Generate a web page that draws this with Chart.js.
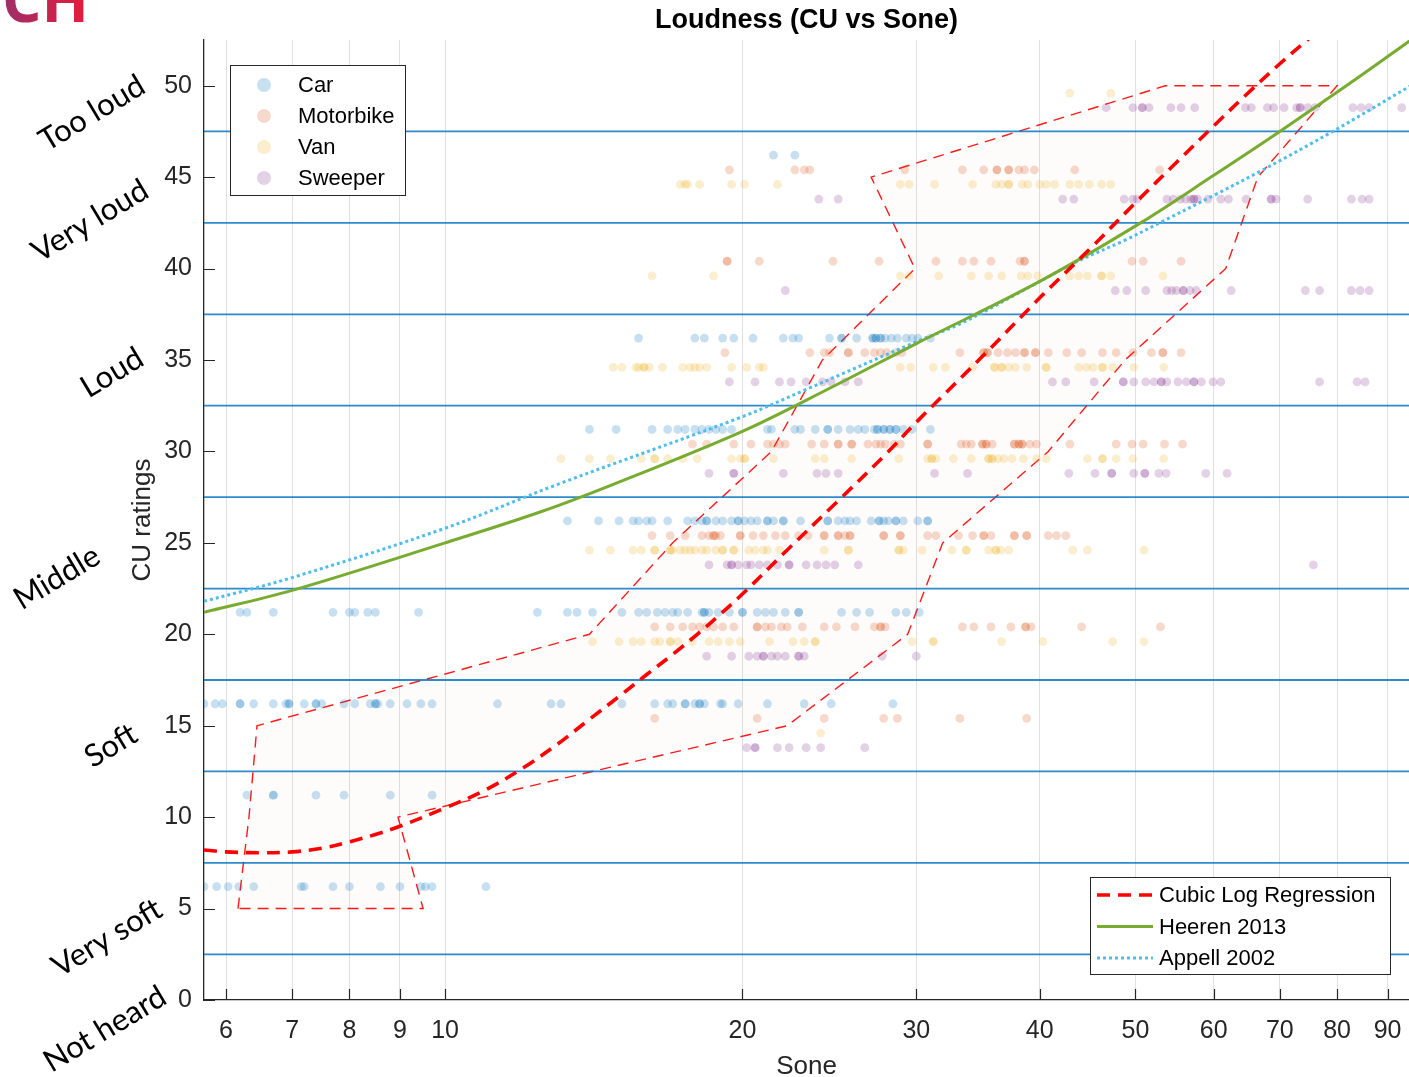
<!DOCTYPE html>
<html>
<head>
<meta charset="utf-8">
<script src="https://cdn.jsdelivr.net/npm/chart.js@4.4.1/dist/chart.umd.min.js"></script>
<style>
  html, body { margin: 0; padding: 0; background: #fff; overflow: hidden; }
  #wrap { width: 1409px; height: 1077px; }
</style>
</head>
<body>
<div id="wrap"><canvas id="chart" width="1409" height="1077"></canvas></div>
<script>
// CU ratings given by listeners (rows) and the loudness in sone of each rated sound
const ratings = [5, 10, 15, 20, 25, 30, 35, 40, 45, 50];

const carSone = [
  [5.7, 5.87, 6.03, 6.18, 6.4, 7.15, 7.2, 7.7, 8.0, 8.6, 9.0, 9.45, 9.55, 9.7, 11.0],
  [6.3, 6.7, 6.7, 7.4, 7.9, 8.8, 9.7],
  [5.7, 5.85, 5.95, 6.2, 6.2, 6.4, 6.7, 6.9, 6.95, 6.95, 7.2, 7.4, 7.4, 7.5, 7.9, 8.1, 8.4, 8.5, 8.5, 8.55, 8.8, 9.15, 9.45, 9.7,
   11.3, 12.8, 13.1, 15.1, 16.3, 16.8, 17.0, 17.5, 17.5, 17.9, 18.1, 18.1, 18.3, 19.0, 19.1, 19.8, 21.2, 23.1, 24.6, 28.4],
  [6.2, 6.3, 6.7, 7.7, 8.0, 8.1, 8.35, 8.5, 9.4, 12.4, 13.3, 13.6, 14.1, 15.1, 15.7, 16.0, 16.4, 16.7, 17.0, 17.2, 17.6,
   18.2, 18.3, 18.3, 18.5, 18.9, 19.4, 20.0, 20.0, 20.7, 21.1, 21.5, 22.1, 22.8, 22.8, 25.2, 26.1, 26.9, 28.6, 29.3, 30.2],
  [13.3, 14.3, 15.0, 15.5, 15.7, 16.0, 16.2, 16.8, 17.6, 17.9, 18.2, 18.4, 18.4, 18.8, 19.1, 19.5, 19.8, 19.8, 20.1, 20.4,
   20.7, 21.2, 21.2, 21.5, 22.0, 22.0, 22.9, 24.4, 24.4, 25.0, 25.4, 25.7, 26.1, 27.0, 27.5, 27.5, 27.8, 28.1, 28.6, 28.6,
   29.1, 30.1, 30.8, 30.8],
  [14.0, 14.9, 16.2, 16.8, 17.2, 17.5, 17.9, 18.2, 18.5, 18.8, 19.1, 19.5, 21.2, 21.4, 22.6, 22.9, 23.7, 24.4, 24.4, 25.0,
   25.7, 26.2, 26.6, 27.2, 27.4, 27.4, 27.8, 27.8, 28.2, 28.2, 28.6, 28.6, 29.1, 29.7, 31.0],
  [15.7, 17.9, 18.3, 19.1, 19.6, 20.5, 22.0, 22.5, 22.8, 24.5, 25.2, 25.2, 26.1, 27.1, 27.1, 27.3, 27.3, 27.6, 27.6, 27.9,
   28.3, 28.7, 29.3, 29.7, 30.1, 31.0],
  [],
  [21.5, 22.6],
  []
];

const motoSone = [
  [],
  [],
  [16.3, 20.7, 24.2, 27.8, 28.7, 33.2, 38.8],
  [16.3, 16.9, 17.4, 17.8, 18.1, 18.4, 18.7, 19.1, 19.6, 20.7, 20.7, 21.1, 21.4, 21.9, 22.2, 23.0, 24.2, 24.9, 26.0, 27.2,
   27.6, 27.6, 27.9, 33.4, 34.3, 35.7, 37.4, 38.7, 38.7, 39.2, 44.1, 53.0],
  [16.2, 16.9, 17.5, 18.2, 18.5, 18.7, 18.7, 18.8, 19.0, 19.9, 19.9, 20.5, 21.0, 21.6, 22.1, 22.8, 23.3, 24.2, 24.2, 25.0,
   25.0, 25.4, 25.7, 25.7, 27.8, 27.8, 28.9, 28.9, 30.8, 31.4, 33.1, 34.2, 35.1, 35.1, 35.7, 37.7, 37.7, 38.8, 38.8, 40.8,
   41.6, 42.5],
  [17.8, 18.4, 19.6, 20.4, 21.2, 21.5, 21.8, 22.1, 23.5, 24.2, 25.0, 25.0, 25.8, 25.8, 26.8, 27.3, 27.6, 27.9, 28.5, 28.9,
   30.8, 30.8, 33.3, 33.7, 34.1, 35.0, 35.0, 35.3, 35.3, 35.8, 37.7, 37.7, 38.1, 38.1, 38.4, 38.4, 39.1, 39.7, 42.9, 47.8,
   49.6, 50.9, 53.5, 55.8],
  [19.2, 23.4, 24.2, 24.5, 25.6, 25.6, 26.6, 27.2, 27.6, 28.0, 28.6, 29.0, 33.2, 35.1, 35.1, 35.4, 35.4, 36.3, 37.1, 37.8,
   38.6, 38.6, 39.6, 39.6, 40.8, 42.6, 44.1, 46.3, 47.8, 49.7, 51.9, 53.3, 53.3, 55.6],
  [19.3, 19.3, 20.8, 24.7, 27.5, 31.4, 33.4, 34.3, 35.7, 38.2, 38.6, 38.6, 49.6, 50.9, 55.6],
  [19.4, 22.6, 23.1, 23.4, 29.2, 33.4, 35.1, 36.2, 36.2, 37.2, 37.2, 38.1, 38.6, 39.5, 43.4, 52.9],
  []
];

const vanSone = [
  [],
  [],
  [24.0],
  [14.1, 15.0, 15.5, 15.8, 16.3, 16.5, 16.9, 16.9, 17.2, 17.8, 18.5, 18.9, 19.4, 19.9, 21.3, 22.5, 23.1, 23.7, 23.7, 29.7,
   31.2, 31.2, 36.6, 40.3, 47.4, 51.0],
  [14.0, 14.7, 15.5, 15.8, 16.3, 16.3, 16.9, 16.9, 17.0, 17.3, 17.5, 17.7, 17.9, 18.2, 18.4, 18.8, 19.1, 19.1, 19.6, 19.6,
   20.3, 20.6, 21.0, 21.2, 21.8, 24.2, 25.6, 25.6, 28.8, 28.8, 29.1, 30.4, 32.6, 33.7, 33.7, 35.5, 36.1, 36.1, 36.5, 37.2,
   43.2, 44.7, 51.0],
  [13.1, 14.0, 14.7, 15.8, 16.3, 16.3, 16.8, 17.4, 18.0, 19.5, 19.9, 20.1, 20.1, 21.5, 23.7, 24.2, 25.8, 28.8, 30.8, 31.1,
   31.1, 31.4, 32.7, 34.1, 35.5, 35.5, 35.8, 35.8, 36.3, 36.8, 37.5, 38.5, 39.7, 40.6, 44.7, 46.3, 46.3, 47.8, 49.7, 53.4],
  [14.8, 15.1, 15.6, 15.7, 15.9, 15.9, 16.1, 16.6, 17.4, 17.7, 17.9, 18.1, 18.4, 19.5, 20.2, 20.8, 21.0, 28.9, 29.6, 31.2,
   32.1, 34.2, 36.0, 36.0, 36.6, 36.6, 37.2, 37.8, 38.8, 40.6, 40.6, 43.8, 44.6, 45.3, 46.3, 46.3, 47.4, 49.8, 53.4],
  [16.2, 18.7, 28.9, 29.5, 31.6, 34.1, 35.5, 36.6, 38.3, 38.9, 39.8, 42.9, 43.8, 44.7, 46.2, 46.2, 47.2, 53.3],
  [17.3, 17.5, 17.6, 18.1, 19.5, 20.1, 21.7, 28.9, 29.5, 31.3, 34.2, 36.1, 36.6, 37.2, 37.2, 38.4, 38.9, 40.0, 40.6, 41.4,
   42.9, 43.8, 44.9, 46.2, 47.2],
  [42.9, 47.2]
];

const sweeperSone = [
  [],
  [],
  [20.2, 20.6, 20.6, 21.7, 22.3, 23.2, 24.0, 26.6],
  [18.4, 19.5, 20.3, 20.7, 21.0, 21.0, 21.4, 21.7, 22.1, 22.8, 22.8, 23.1, 27.7, 30.0],
  [18.5, 19.3, 19.5, 19.5, 19.8, 20.2, 20.4, 20.8, 21.2, 21.7, 22.3, 22.3, 23.2, 23.8, 24.3, 24.8, 26.2, 75.7],
  [18.5, 19.6, 19.6, 22.0, 23.8, 24.3, 25.0, 31.3, 33.8, 42.8, 45.5, 47.3, 47.3, 49.8, 51.1, 51.1, 52.8, 53.7, 58.9, 61.9],
  [19.4, 20.6, 21.8, 22.4, 23.2, 24.1, 24.6, 25.4, 26.2, 41.2, 42.5, 45.4, 48.6, 48.6, 49.8, 51.2, 52.2, 53.1, 53.1, 53.8,
   55.2, 56.3, 57.3, 57.3, 58.3, 59.9, 61.0, 76.8, 83.8, 85.4],
  [22.1, 47.7, 49.0, 51.2, 53.8, 54.4, 55.0, 55.9, 55.9, 56.8, 57.6, 62.5, 74.3, 76.8, 82.7, 84.4, 86.2],
  [23.9, 25.0, 42.2, 43.3, 48.7, 49.7, 50.2, 53.8, 54.6, 55.5, 56.2, 56.9, 57.3, 57.3, 57.8, 59.2, 61.0, 62.1, 64.7, 68.6,
   68.6, 69.4, 74.7, 82.7, 84.8, 86.2],
  [46.7, 49.7, 50.8, 50.8, 51.6, 54.3, 55.6, 57.4, 64.6, 65.5, 68.0, 69.0, 70.7, 72.8, 73.4, 73.4, 74.7, 76.0, 83.0, 84.6,
   86.2, 93.0]
];

// spread of ratings: lowest / highest sone per rating (red dashed outline)
const rangeCU = [5, 10, 15, 20, 25, 30, 35, 40, 45, 50];
const rangeLow = [6.17, 6.33, 6.45, 14.0, 17.0, 21.4, 24.1, 29.9, 27.0, 53.6];
const rangeHigh = [9.5, 8.96, 22.2, 29.4, 31.9, 40.8, 48.8, 61.7, 66.5, 80.0];

// model curves
const cubicSone = [5.7, 6, 6.5, 7, 7.5, 8, 8.5, 9, 10, 11, 12, 13, 14, 15, 16, 17, 18, 19, 20, 22, 25, 28, 30, 35, 40, 45, 50, 55, 60, 65, 70, 75];
const cubicCU = [8.2, 8.1, 8.05, 8.1, 8.3, 8.65, 9.05, 9.5, 10.5, 11.5, 12.7, 14.0, 15.35, 16.6, 17.8, 18.9, 20.0, 21.1, 22.2, 24.4, 27.3, 29.9, 31.6, 35.2, 38.4, 41.1, 43.6, 45.8, 47.8, 49.6, 51.2, 52.6];
const heerenSone = [5.7, 7, 10, 12.5, 14.8, 20, 24.4, 30, 40, 50.6, 60, 70, 84.3, 95];
const heerenCU = [21.2, 22.4, 25.0, 26.7, 28.2, 31.1, 33.4, 35.9, 39.3, 42.5, 45.1, 47.5, 50.5, 52.5];
const appellSone = [5.7, 7, 10, 13, 20, 23, 30, 33.3, 40, 43.3, 49, 52.9, 60, 67.3, 79.2, 95];
const appellCU = [21.8, 23.1, 25.8, 28.2, 31.9, 33.3, 36.0, 37.0, 39.3, 40.3, 41.6, 42.5, 44.0, 45.4, 47.5, 50.0];

// category borders and names
const zoneEdges = [2.5, 7.5, 12.5, 17.5, 22.5, 27.5, 32.5, 37.5, 42.5, 47.5];
const zoneNames = ['Not heard', 'Very soft', 'Soft', 'Middle', 'Loud', 'Very loud', 'Too loud'];

const xTickValues = [6, 7, 8, 9, 10, 20, 30, 40, 50, 60, 70, 80, 90];
const yTickValues = [0, 5, 10, 15, 20, 25, 30, 35, 40, 45, 50];
const xMin = 5.7, xMax = 94.6, yMin = 0, yMax = 52.5;

const seriesNames = ['Car', 'Motorbike', 'Van', 'Sweeper'];
const seriesSone = [carSone, motoSone, vanSone, sweeperSone];
const seriesRGB = ['0,114,189', '217,83,25', '237,177,32', '126,47,142'];
const rowShift = [1.2, 0.4, -0.4, -1.2]; // each group sits a bit above/below its rating

const FONT = '"Liberation Sans", Arial, sans-serif';
Chart.defaults.font.family = FONT;

function pairs(xs, ys) {
  return xs.map((v, i) => ({ x: v, y: ys[i] }));
}

const datasets = [];

// outline of rating spread
const outline = pairs(rangeLow, rangeCU).concat(pairs(rangeHigh.slice().reverse(), rangeCU.slice().reverse()));
outline.push(outline[0]);
datasets.push({
  label: 'range', data: outline, showLine: true, fill: 'shape',
  borderColor: '#ff1a1a', borderWidth: 1.4, borderDash: [11, 7],
  backgroundColor: 'rgba(217,83,25,0.014)', pointRadius: 0, order: 7
});

// category borders
zoneEdges.forEach(e => {
  datasets.push({
    label: 'edge', data: [{ x: xMin, y: e }, { x: xMax, y: e }], showLine: true,
    borderColor: 'rgba(0,114,189,0.82)', borderWidth: 1.8, pointRadius: 0, order: 6
  });
});

// listener ratings
seriesSone.forEach((rows, s) => {
  const pts = [];
  rows.forEach((sones, i) => sones.forEach(v => pts.push({ x: v, y: ratings[i] + rowShift[s] })));
  datasets.push({
    label: seriesNames[s], data: pts, pointRadius: 4.4, pointBorderWidth: 0,
    backgroundColor: `rgba(${seriesRGB[s]},0.22)`, order: 5
  });
});

datasets.push({
  label: 'Appell 2002', data: pairs(appellSone, appellCU), showLine: true, tension: 0.35,
  borderColor: '#4DBEEE', borderWidth: 3, borderDash: [3, 3], pointRadius: 0, order: 3
});
datasets.push({
  label: 'Heeren 2013', data: pairs(heerenSone, heerenCU), showLine: true, tension: 0.35,
  borderColor: '#77AC30', borderWidth: 3, pointRadius: 0, order: 2
});
datasets.push({
  label: 'Cubic Log Regression', data: pairs(cubicSone, cubicCU), showLine: true, tension: 0.35,
  borderColor: '#ff0000', borderWidth: 3.6, borderDash: [13, 8], pointRadius: 0, order: 1
});

// texts, legends, inward ticks drawn on top of the chart
const zoneLabelLayout = [
  { cx: 105, cu: -1.6 }, { cx: 107, cu: 3.4 }, { cx: 111, cu: 13.9 }, { cx: 57, cu: 23.1 },
  { cx: 112, cu: 34.3 }, { cx: 90, cu: 42.6 }, { cx: 92, cu: 48.5 }
];

const overlay = {
  id: 'overlay',
  afterDraw(chart) {
    const { ctx, chartArea: a, scales: { x, y } } = chart;
    ctx.save();

    // tick marks pointing inwards
    ctx.strokeStyle = '#262626';
    ctx.lineWidth = 1.2;
    ctx.beginPath();
    x.ticks.forEach(t => {
      const px = Math.round(x.getPixelForValue(t.value)) + 0.5;
      ctx.moveTo(px, a.bottom); ctx.lineTo(px, a.bottom - 11);
    });
    y.ticks.forEach(t => {
      const py = Math.round(y.getPixelForValue(t.value)) + 0.5;
      ctx.moveTo(a.left, py); ctx.lineTo(a.left + 11, py);
    });
    ctx.stroke();

    // category names
    ctx.fillStyle = '#000';
    ctx.font = '31px Lato, "Open Sans", sans-serif';
    ctx.textAlign = 'center';
    ctx.textBaseline = 'middle';
    zoneNames.forEach((name, i) => {
      const l = zoneLabelLayout[i];
      ctx.save();
      ctx.translate(l.cx, y.getPixelForValue(l.cu));
      ctx.rotate(-31 * Math.PI / 180);
      ctx.fillText(name, 0, 0);
      ctx.restore();
    });

    // legend of the rating groups
    ctx.fillStyle = '#fff';
    ctx.fillRect(230, 65, 175, 130);
    ctx.strokeStyle = '#262626';
    ctx.lineWidth = 1;
    ctx.strokeRect(230.5, 65.5, 175, 130);
    ctx.font = '22px ' + FONT;
    ctx.textAlign = 'left';
    seriesNames.forEach((n, i) => {
      const cy = 85 + i * 31;
      ctx.fillStyle = `rgba(${seriesRGB[i]},0.22)`;
      ctx.beginPath();
      ctx.arc(264, cy, 7, 0, Math.PI * 2);
      ctx.fill();
      ctx.fillStyle = '#000';
      ctx.fillText(n, 298, cy + 1);
    });

    // legend of the model curves
    ctx.fillStyle = '#fff';
    ctx.fillRect(1090, 877, 300, 97);
    ctx.strokeStyle = '#262626';
    ctx.strokeRect(1090.5, 877.5, 300, 97);
    const curves = datasets.slice(-3).reverse();
    curves.forEach((d, i) => {
      const cy = 895 + i * 31.5;
      ctx.strokeStyle = d.borderColor;
      ctx.lineWidth = d.borderWidth;
      ctx.setLineDash(d.borderDash || []);
      ctx.beginPath();
      ctx.moveTo(1097, cy); ctx.lineTo(1153, cy);
      ctx.stroke();
      ctx.setLineDash([]);
      ctx.fillStyle = '#000';
      ctx.fillText(d.label, 1159, cy + 1);
    });

    // cropped logo at the top left
    const g = ctx.createLinearGradient(0, 0, 85, 0);
    g.addColorStop(0, '#9b2f6b');
    g.addColorStop(1, '#e51b3a');
    ctx.fillStyle = g;
    ctx.font = 'bold 62px "Open Sans", sans-serif';
    ctx.textBaseline = 'alphabetic';
    ctx.fillText('CH', 2, 22);

    ctx.restore();
  }
};

new Chart(document.getElementById('chart'), {
  type: 'scatter',
  data: { datasets },
  options: {
    responsive: false,
    animation: false,
    devicePixelRatio: 1,
    layout: { autoPadding: false, padding: { left: 115, right: 0, top: 0, bottom: 0 } },
    plugins: {
      legend: { display: false },
      tooltip: { enabled: false },
      title: {
        display: true, text: 'Loudness (CU vs Sone)', fullSize: false, color: '#000',
        font: { size: 27, weight: 'bold' }, padding: { top: 4, bottom: 3.6 }
      }
    },
    scales: {
      x: {
        type: 'logarithmic', min: xMin, max: xMax,
        afterBuildTicks: s => { s.ticks = xTickValues.map(v => ({ value: v })); },
        afterFit: s => { s.height = 77; s.paddingLeft = 0; s.paddingRight = 0; },
        ticks: { callback: v => String(v), autoSkip: false, maxRotation: 0, padding: 16, color: '#262626', font: { size: 25 } },
        grid: { color: '#e0e0e0', lineWidth: 1, drawTicks: false },
        border: { color: '#262626', width: 1.3 },
        title: { display: true, text: 'Sone', color: '#262626', font: { size: 26, lineHeight: 0.75 }, padding: { top: 0, bottom: 0 } }
      },
      y: {
        min: yMin, max: yMax,
        afterBuildTicks: s => { s.ticks = yTickValues.map(v => ({ value: v })); },
        afterFit: s => { s.width = 89; s.paddingTop = 0; s.paddingBottom = 0; },
        ticks: { padding: 12, color: '#262626', font: { size: 25 } },
        grid: { color: 'rgba(0,0,0,0)', drawTicks: false },
        border: { color: '#262626', width: 1.3 },
        title: { display: true, text: 'CU ratings', color: '#262626', font: { size: 26 }, padding: { top: 12, bottom: 0 } }
      }
    }
  },
  plugins: [overlay]
});
</script>
</body>
</html>
